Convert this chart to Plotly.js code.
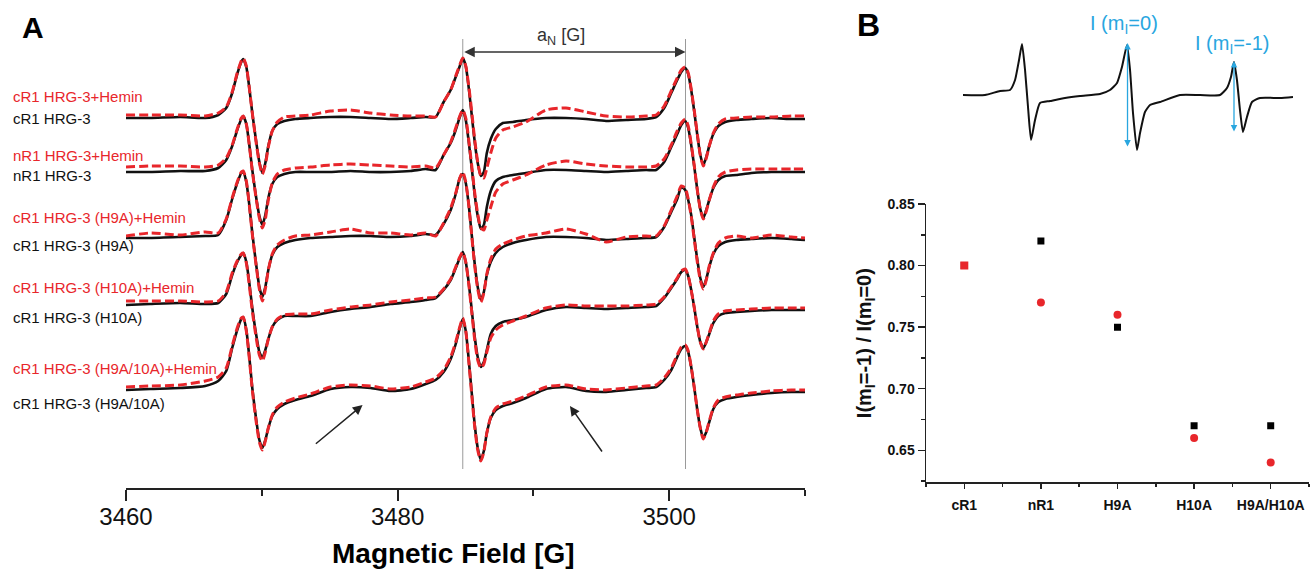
<!DOCTYPE html>
<html><head><meta charset="utf-8">
<script src="https://cdn.plot.ly/plotly-3.0.1.min.js"></script>
<style>html,body{margin:0;padding:0;background:#fff}#chart{width:1311px;height:571px}</style>
</head><body><div id="chart"></div>
<script>
// ---------- Panel A : EPR spectra (derivative signal, arbitrary units, axis inverted) ----------
const field = [3460.00,3461.77,3463.99,3465.83,3466.79,3467.38,3467.82,3468.19,3468.49,3468.63,
3468.86,3469.08,3469.30,3469.59,3469.82,3470.04,3470.26,3470.48,3470.77,3471.14,
3471.66,3472.47,3473.58,3475.06,3476.53,3478.01,3479.48,3480.96,3482.07,3482.80,
3483.39,3483.91,3484.28,3484.58,3484.80,3485.02,3485.24,3485.46,3485.68,3485.90,
3486.13,3486.35,3486.57,3486.86,3487.23,3487.75,3488.49,3489.45,3490.92,3492.40,
3493.87,3495.35,3496.83,3498.30,3499.04,3499.63,3500.15,3500.59,3500.89,3501.18,
3501.40,3501.62,3501.85,3502.07,3502.29,3502.51,3502.73,3502.95,3503.25,3503.62,
3504.13,3504.94,3506.05,3507.53,3509.00,3510.00];

const cR1 = [118,118,117,118,115,108,93,74,62,59, 67,88,113,142,162,173,163,146,131,124,
121,119,118,117,117,118,119,118,117,117, 102,90,77,66,58,66,88,115,142,163,
176,172,153,139,129,123,122,120,118,118, 119,121,120,119,117,108,93,80,72,68,
74,90,112,135,155,165,157,146,134,126, 122,120,119,118,119,119];
const cR1_hemin = [115,115,115,116,113,107,92,73,61,58, 66,88,113,143,163,174,165,147,131,122,
117,116,115,111,110,113,115,116,116,117, 102,90,76,65,58,66,86,112,140,162,
176,178,168,153,138,130,127,122,110,108, 112,116,117,116,115,106,91,78,70,67,
73,89,111,134,155,166,158,146,133,124, 119,118,117,117,116,116];
const nR1 = [172,172,171,171,168,160,146,130,119,116, 124,145,170,198,216,225,215,198,184,177,
174,172,172,172,171,172,172,171,169,170, 155,143,130,117,110,120,142,168,195,216,
229,225,207,191,181,177,175,173,170,170, 171,172,171,170,170,162,147,134,125,121,
128,145,167,190,209,218,210,200,188,180, 176,175,173,172,172,172];
const nR1_hemin = [167,166,166,167,165,158,145,129,118,116, 124,145,171,199,218,228,219,200,183,174,
170,168,167,165,164,165,166,167,166,168, 155,142,128,116,110,118,140,166,193,214,
228,230,220,207,192,184,180,175,165,161, 164,166,167,167,166,159,145,131,123,119,
126,144,166,190,209,219,211,200,187,177, 172,170,169,169,169,169];
const h9a = [238,238,237,236,235,220,199,183,173,172, 182,205,233,265,287,297,287,270,255,247,
243,240,238,237,236,236,237,236,234,235, 224,210,194,178,174,183,205,235,264,287,
300,292,275,262,253,247,243,240,237,237, 238,240,239,238,237,227,212,199,187,190,
200,215,238,260,278,287,279,267,254,246, 242,240,239,238,239,240];
const h9a_hemin = [236,233,235,232,233,219,198,182,172,171, 181,205,234,266,289,301,289,270,254,245,
240,236,235,232,229,233,233,235,233,236, 223,208,193,178,172,182,205,236,266,289,
302,293,274,259,249,244,240,236,233,229, 234,242,237,236,236,226,210,196,186,188,
199,216,240,262,280,289,280,266,253,243, 238,236,238,235,237,238];
const h10a = [305,304,303,304,303,294,275,262,255,253, 262,283,308,335,352,358,350,339,327,320,
316,316,316,312,309,307,304,302,300,298, 290,280,268,258,252,262,283,310,337,357,
367,362,350,334,326,322,320,317,310,307, 308,309,308,307,306,298,288,279,272,270,
276,290,308,327,342,348,342,334,323,316, 313,312,311,310,310,310];
const h10a_hemin = [301,301,301,302,301,292,273,261,254,253, 263,285,311,338,355,361,352,339,327,319,
315,314,314,310,307,305,302,300,298,297, 289,279,267,257,252,262,284,312,340,360,
368,364,352,338,330,325,321,316,308,305, 306,306,306,305,304,297,287,278,271,269,
276,290,308,327,342,349,342,333,321,314, 311,310,309,308,308,308];
const h9a10a = [390,389,388,386,381,371,348,330,319,317, 330,357,388,420,440,448,440,428,416,409,
404,400,396,389,387,388,391,389,384,380, 372,359,344,328,319,331,360,393,425,448,
460,451,433,418,410,406,403,398,389,387, 391,392,390,388,387,380,370,357,349,346,
352,367,388,410,428,438,432,422,409,402, 399,397,395,393,392,392];
const h9a10a_hemin = [387,386,385,381,377,368,346,328,318,317, 331,358,390,422,442,450,441,428,415,407,
402,398,394,387,385,386,389,387,382,378, 370,357,342,327,318,331,361,395,427,450,
461,452,433,417,408,404,401,396,387,385, 389,390,388,386,385,378,368,355,347,345,
351,367,388,410,428,439,432,421,408,400, 397,395,393,391,390,390];

const blackNames = ["cR1 HRG-3","nR1 HRG-3","cR1 HRG-3 (H9A)","cR1 HRG-3 (H10A)","cR1 HRG-3 (H9A/10A)"];
const redNames = ["cR1 HRG-3+Hemin","nR1 HRG-3+Hemin","cR1 HRG-3 (H9A)+Hemin","cR1 HRG-3 (H10A)+Hemin","cR1 HRG-3 (H9A/10A)+Hemin"];
const blackSeries = [cR1, nR1, h9a, h10a, h9a10a];
const redSeries = [cR1_hemin, nR1_hemin, h9a_hemin, h10a_hemin, h9a10a_hemin];
const aN_lines = [3484.8, 3501.2];

// ---------- Panel B : inset spectrum ----------
const insetField = [3459.37,3462.78,3465.11,3466.66,3467.44,3468.06,3468.52,3468.99,3469.45,3469.92,
3470.54,3471.31,3472.86,3475.19,3477.51,3480.61,3482.16,3483.25,3484.02,3484.80,
3485.27,3485.73,3486.35,3486.82,3487.59,3488.37,3489.92,3493.02,3496.12,3499.22,
3500.30,3500.92,3501.39,3501.85,3502.32,3502.78,3503.40,3504.18,3505.42,3508.52,3510.54];
const insetSignal = [95,95,91,90,80,60,44,70,107,140, 120,103,101,98,96,94,90,83,67,45,
70,113,150,133,112,105,102,95,95,95, 88,77,62,80,110,132,117,102,98,98,97];

// ---------- Panel B : intensity ratio ----------
const categories = ["cR1","nR1","H9A","H10A","H9A/H10A"];
const ratioApo = [0.80, 0.82, 0.75, 0.67, 0.67];
const ratioHemin = [0.80, 0.77, 0.76, 0.66, 0.64];

const FONT = "Liberation Sans, Arial, sans-serif";
const RED = "#e8262b";
const BLUE = "#29a6df";
const W = 1311, H = 571;

const traces = [];
for (let i = 0; i < 5; i++) {
  traces.push({x: field, y: blackSeries[i], name: blackNames[i], type: "scatter", mode: "lines",
    line: {color: "#111", width: 2.6, shape: "spline", smoothing: 0.6}, xaxis: "x", yaxis: "y", hoverinfo: "skip"});
  traces.push({x: field, y: redSeries[i], name: redNames[i], type: "scatter", mode: "lines",
    line: {color: RED, width: 3, dash: "9px,4px", shape: "spline", smoothing: 0.6}, xaxis: "x", yaxis: "y", hoverinfo: "skip"});
}
traces.push({x: insetField, y: insetSignal, type: "scatter", mode: "lines",
  line: {color: "#111", width: 2, shape: "spline", smoothing: 0.5}, xaxis: "x3", yaxis: "y3"});
const idx = categories.map((c, i) => i);
traces.push({x: idx, y: ratioApo, type: "scatter", mode: "markers", name: "apo",
  marker: {symbol: "square", size: 7, color: "#000", opacity: 1}, xaxis: "x2", yaxis: "y2"});
// where both ratios coincide (cR1) the reference shows a red square covering the black one
const heminSymbols = ratioHemin.map((v, i) => v === ratioApo[i] ? "square" : "circle");
traces.push({x: idx, y: ratioHemin, type: "scatter", mode: "markers", name: "+Hemin",
  marker: {symbol: heminSymbols, size: 8, color: RED, opacity: 1}, xaxis: "x2", yaxis: "y2"});

const annotations = [];
// sample labels on the left
const labelTop = [97, 155, 217, 287, 368];
const labelBot = [118, 175, 245, 317, 403];
for (let i = 0; i < 5; i++) {
  annotations.push({xref: "paper", yref: "paper", x: 11 / W, y: 1 - labelTop[i] / H, xanchor: "left", yanchor: "middle",
    text: redNames[i], showarrow: false, font: {family: FONT, size: 15, color: RED}});
  annotations.push({xref: "paper", yref: "paper", x: 11 / W, y: 1 - labelBot[i] / H, xanchor: "left", yanchor: "middle",
    text: blackNames[i], showarrow: false, font: {family: FONT, size: 15, color: "#111"}});
}
// panel letters
annotations.push({xref: "paper", yref: "paper", x: 20 / W, y: 1 - 28 / H, xanchor: "left", yanchor: "middle", text: "<b>A</b>",
  showarrow: false, font: {family: FONT, size: 30, color: "#000"}});
annotations.push({xref: "paper", yref: "paper", x: 855 / W, y: 1 - 25 / H, xanchor: "left", yanchor: "middle", text: "<b>B</b>",
  showarrow: false, font: {family: FONT, size: 32, color: "#000"}});
// x-axis title of panel A
annotations.push({xref: "paper", yref: "paper", x: 453 / W, y: 1 - 553 / H, xanchor: "center", yanchor: "middle",
  text: "<b>Magnetic Field [G]</b>", showarrow: false, font: {family: FONT, size: 28, color: "#000"}});
// a_N double arrow and label
annotations.push({xref: "x", yref: "y", axref: "x", ayref: "y", x: aN_lines[1], y: 52, ax: aN_lines[0], ay: 52,
  text: "", showarrow: true, arrowside: "end+start", arrowhead: 2, arrowsize: 1.4, arrowwidth: 1.5, arrowcolor: "#333", standoff: 0, startstandoff: 0});
annotations.push({xref: "x", yref: "y", x: 3492.0, y: 37, text: "a<sub>N</sub> [G]", showarrow: false,
  font: {family: FONT, size: 18, color: "#333"}});
// diagonal arrows pointing to the bumps
annotations.push({xref: "x", yref: "y", axref: "x", ayref: "y", x: 3477.42, y: 405, ax: 3473.87, ay: 445,
  text: "", showarrow: true, arrowhead: 2, arrowsize: 1.3, arrowwidth: 1.5, arrowcolor: "#222"});
annotations.push({xref: "x", yref: "y", axref: "x", ayref: "y", x: 3492.69, y: 406, ax: 3495.13, ay: 453,
  text: "", showarrow: true, arrowhead: 2, arrowsize: 1.3, arrowwidth: 1.5, arrowcolor: "#222"});
// inset blue double arrows and labels
annotations.push({xref: "x3", yref: "y3", axref: "x3", ayref: "y3", x: 3484.88, y: 43, ax: 3484.88, ay: 148,
  text: "", showarrow: true, arrowside: "end+start", arrowhead: 2, arrowsize: 1, arrowwidth: 1.3, arrowcolor: BLUE, standoff: 0, startstandoff: 0});
annotations.push({xref: "x3", yref: "y3", axref: "x3", ayref: "y3", x: 3501.39, y: 61, ax: 3501.39, ay: 133,
  text: "", showarrow: true, arrowside: "end+start", arrowhead: 2, arrowsize: 1, arrowwidth: 1.3, arrowcolor: BLUE, standoff: 0, startstandoff: 0});
annotations.push({xref: "x3", yref: "y3", x: 3484.33, y: 24, text: "I (m<sub>I</sub>=0)", showarrow: false,
  font: {family: FONT, size: 20, color: BLUE}});
annotations.push({xref: "x3", yref: "y3", x: 3501.08, y: 44, text: "I (m<sub>I</sub>=-1)", showarrow: false,
  font: {family: FONT, size: 20, color: BLUE}});

const shapes = aN_lines.map(v => ({type: "line", xref: "x", yref: "y", x0: v, x1: v, y0: 39, y1: 469,
  line: {color: "#9a9a9a", width: 1}, layer: "below"}));

const layout = {
  width: W, height: H, margin: {l: 0, r: 0, t: 0, b: 0}, paper_bgcolor: "#fff", plot_bgcolor: "rgba(0,0,0,0)",
  showlegend: false, font: {family: FONT, color: "#000"},
  xaxis: {domain: [126 / W, 805 / W], range: [3460, 3510], anchor: "y", showline: true, linewidth: 2, linecolor: "#222",
    ticks: "outside", ticklen: 11, tickwidth: 2, tickcolor: "#222", tick0: 3460, dtick: 20, ticklabelstandoff: -5,
    tickfont: {family: FONT, size: 24, color: "#111"}, showgrid: false, zeroline: false,
    minor: {tick0: 3460, dtick: 10, ticks: "outside", ticklen: 6, tickwidth: 2, tickcolor: "#222", showgrid: false}},
  yaxis: {domain: [(H - 488) / H, (H - 28) / H], range: [488, 28], visible: false, anchor: "x"},
  xaxis2: {domain: [926 / W, 1309 / W], range: [-0.5, 4.5], anchor: "y2", showline: true, linewidth: 1.5, linecolor: "#222",
    tickmode: "array", tickvals: idx, ticktext: categories, ticks: "outside", ticklen: 5, tickwidth: 1.5, tickcolor: "#222",
    tickfont: {family: FONT, size: 14, weight: "bold", color: "#111"}, showgrid: false, zeroline: false, ticklabelstandoff: 4,
    minor: {tickmode: "array", tickvals: [-0.5, 0.5, 1.5, 2.5, 3.5, 4.5], ticks: "outside", ticklen: 3, tickwidth: 1.5, tickcolor: "#222", showgrid: false}},
  yaxis2: {domain: [(H - 482.3) / H, (H - 204) / H], range: [0.624, 0.85], anchor: "x2", showline: true, linewidth: 1.5, linecolor: "#222",
    tick0: 0.65, dtick: 0.05, tickformat: ".2f", ticks: "outside", ticklen: 7, tickwidth: 1.5, tickcolor: "#222",
    tickfont: {family: FONT, size: 14, weight: "bold", color: "#111"}, showgrid: false, zeroline: false,
    minor: {tick0: 0.625, dtick: 0.025, ticks: "outside", ticklen: 4, tickwidth: 1.5, tickcolor: "#222", showgrid: false},
    title: {text: "I(m<sub>I</sub>=-1) / I(m<sub>I</sub>=0)", font: {family: FONT, size: 20, weight: "bold", color: "#111"}, standoff: 10}},
  xaxis3: {domain: [963 / W, 1293 / W], range: [3459.37, 3510.54], visible: false, anchor: "y3"},
  yaxis3: {domain: [(H - 160) / H, (H - 20) / H], range: [160, 20], visible: false, anchor: "x3"},
  annotations: annotations, shapes: shapes
};

Plotly.newPlot("chart", traces, layout, {staticPlot: true, displayModeBar: false});
</script>
</body></html>
